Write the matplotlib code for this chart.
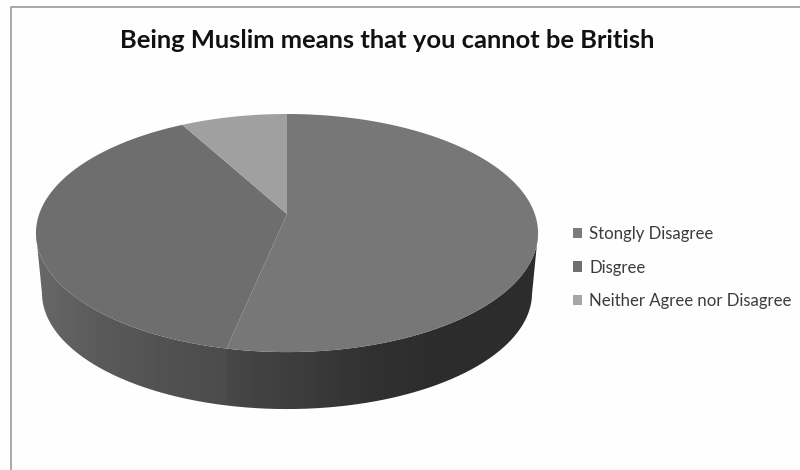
import numpy as np
import matplotlib
matplotlib.use("Agg")
import matplotlib.pyplot as plt
from matplotlib.patches import Patch, PathPatch
from matplotlib.path import Path
from matplotlib.transforms import Affine2D, Transform

title = "Being Muslim means that you cannot be British"
categories = ["Stongly Disagree", "Disgree", "Neither Agree nor Disagree"]
shares = [53.3, 38.7, 8.0]
top_colors = ["#777777", "#6e6e6e", "#a0a0a0"]
legend_colors = ["#7c7c7c", "#707070", "#a6a6a6"]
paper = "#fefefe"


class DiscProjection(Transform):
    """Tilts the unit disc into a foreshortened ellipse, expressed in canvas pixels."""
    input_dims = output_dims = 2

    def __init__(self, cx, cy, half_w, half_h, tilt):
        super().__init__()
        self.params = (cx, cy, half_w, half_h, tilt)

    def transform_non_affine(self, values):
        cx, cy, half_w, half_h, tilt = self.params
        values = np.asarray(values, dtype=float)
        w = 1 + tilt * values[:, 1]
        return np.column_stack((cx + half_w * values[:, 0] / w,
                                cy - half_h * values[:, 1] / w))

    def transform_path_non_affine(self, path):
        fine = path.transformed(Affine2D().scale(2000)).to_polygons()[0] / 2000
        return Path(self.transform_non_affine(fine), closed=True)


top_disc = DiscProjection(287, 214, 247.8, 116, 0.16)
base_disc = DiscProjection(287, 274.3, 241.9, 113.2, 0.16)

fig = plt.figure(figsize=(8, 4.7), dpi=100, facecolor=paper)
ax = fig.add_axes([0, 0, 1, 1])

wedges, _ = ax.pie(shares, colors=top_colors, startangle=90, counterclock=False,
                   radius=1, center=(0, 0))
for wedge in wedges:
    wedge.set_transform(top_disc + ax.transData)
    wedge.set_zorder(3)

# Side wall of the disc: a left-to-right gradient clipped to the wall outline,
# which runs between the widest points of the top and base ellipses
theta = np.radians(np.linspace(189.2, 350.8, 400))
rim = np.column_stack((np.cos(theta), np.sin(theta)))
upper = top_disc.transform_non_affine(rim)
lower = base_disc.transform_non_affine(rim)
wall_outline = np.vstack((upper, lower[::-1], upper[:1]))

seam_x = 227
columns = np.arange(30, 545)
shade = np.interp(columns + 0.5, [36, 100, 160, seam_x - 1, seam_x, 300, 380, 440, 540],
                  [0x68, 0x5a, 0x52, 0x4b, 0x47, 0x3c, 0x30, 0x2d, 0x2c])
gradient = ax.imshow(shade[np.newaxis, :], cmap="gray", vmin=0, vmax=255, aspect="auto",
                     extent=(columns[0], columns[-1] + 1, 420, 100), zorder=2,
                     interpolation="nearest")
wall = PathPatch(Path(wall_outline), facecolor="none", edgecolor="none",
                 transform=ax.transData)
ax.add_patch(wall)
gradient.set_clip_path(wall)

ax.set_aspect("auto")
ax.set_xlim(0, 800)
ax.set_ylim(470, 0)
ax.axis("off")

ax.text(387.5, 41, title, ha="center", va="center", fontsize=18.35, fontweight="bold",
        family="Lato", color="#111111")

handles = [Patch(facecolor=c, edgecolor="none") for c in legend_colors]
ax.legend(handles, categories, loc="center left", bbox_to_anchor=(573, 267.5),
          bbox_transform=ax.transData, frameon=False, borderaxespad=0, borderpad=0,
          handlelength=0.56, handleheight=0.56, handletextpad=0.4, labelspacing=1.04,
          prop={"family": "Lato", "size": 12.1}, labelcolor="#3c3c3c")

# Chart area border
ax.plot([10.5, 10.5, 800], [470, 6.5, 6.5], color="#9a9a9a", lw=1.2, zorder=1, clip_on=False)

fig.savefig("out.png", dpi=100, facecolor=paper)
